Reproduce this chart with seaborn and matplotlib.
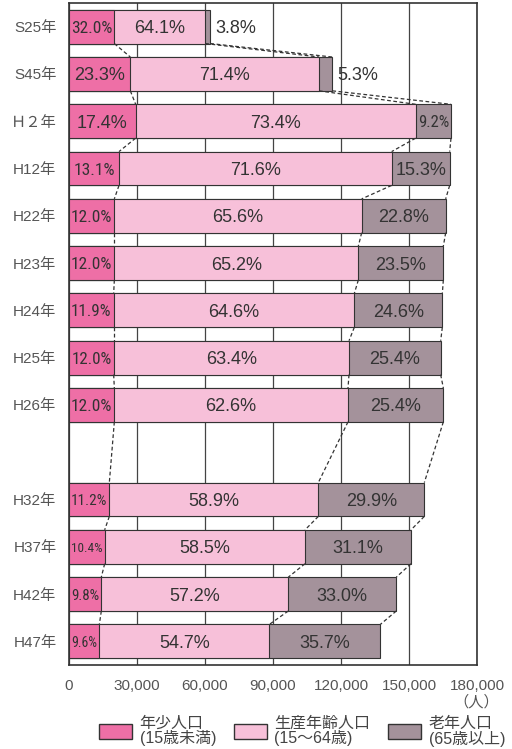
import numpy as np
import pandas as pd
import seaborn as sns
import matplotlib.pyplot as plt
from matplotlib import font_manager
from matplotlib.font_manager import FontProperties
from matplotlib.patches import Patch

# population by age group (persons)
years = ['S25年', 'S45年', 'Ｈ２年', 'H12年', 'H22年', 'H23年', 'H24年', 'H25年',
         'H26年', 'H32年', 'H37年', 'H42年', 'H47年']
young = [20000, 27060, 29410, 22060, 20000, 20000, 19710, 19710, 20000,
         17790, 15740, 14260, 13380]
working = [40150, 83240, 123530, 120290, 109120, 107650, 106170, 103820, 103090,
           92210, 88380, 82500, 75000]
old = [2200, 5880, 15590, 25590, 37060, 37500, 38830, 40440, 42060,
       46760, 46760, 47650, 48970]

young_pct = ['32.0%', '23.3%', '17.4%', '13.1%', '12.0%', '12.0%', '11.9%', '12.0%',
             '12.0%', '11.2%', '10.4%', '9.8%', '9.6%']
working_pct = ['64.1%', '71.4%', '73.4%', '71.6%', '65.6%', '65.2%', '64.6%', '63.4%',
               '62.6%', '58.9%', '58.5%', '57.2%', '54.7%']
old_pct = ['3.8%', '5.3%', '9.2%', '15.3%', '22.8%', '23.5%', '24.6%', '25.4%',
           '25.4%', '29.9%', '31.1%', '33.0%', '35.7%']

groups = ['年少人口\n(15歳未満)', '生産年齢人口\n(15～64歳)', '老年人口\n(65歳以上)']
colors = ['#ee6fa6', '#f7c0d9', '#a4929b']

sns.set_theme(style="white")
plt.rcParams['font.family'] = ['Liberation Sans', 'Noto Sans CJK JP', 'DejaVu Sans']

df = pd.DataFrame({'year': years, 'young': young, 'working': working, 'old': old})
df['cum1'] = df['young']
df['cum2'] = df['young'] + df['working']
df['total'] = df['cum2'] + df['old']

# blank slot between H26 and H32
order = years[:9] + [' '] + years[9:]
pos = [order.index(y) for y in years]

fig = plt.figure(figsize=(5.12, 7.49), dpi=100)
ax = fig.add_axes([69 / 512, 1 - 665 / 749, 408 / 512, 662 / 749])

bw = 0.715
ec = '#333333'
# stack by overdrawing cumulative totals
for col, c in zip(['total', 'cum2', 'cum1'], colors[::-1]):
    sns.barplot(data=df, x=col, y='year', order=order, orient='h', color=c,
                saturation=1, width=bw, edgecolor=ec, linewidth=0.8, ax=ax)

# dashed connectors between neighbouring bars
for i in range(len(years) - 1):
    for col in ['cum1', 'cum2', 'total']:
        ax.plot([df[col][i], df[col][i + 1]], [pos[i] + bw / 2, pos[i + 1] - bw / 2],
                ls=(0, (3, 2)), color=ec, lw=0.9, zorder=1)

ax.set_xlim(0, 180000)
ax.set_ylim(13.5, -0.5)
ticks = list(range(0, 180001, 30000))
ax.set_xticks(ticks)
ax.set_xticklabels([f'{t:,}' for t in ticks])
ax.set_xlabel('')
ax.set_ylabel('')
ax.tick_params(axis='x', length=0, pad=10, labelsize=11, colors='#555555')
ax.tick_params(axis='y', length=0, pad=9, labelsize=11, colors='#555555')
ax.xaxis.grid(True, color='#444444', lw=0.9)
ax.yaxis.grid(False)
ax.set_axisbelow(True)
for s in ax.spines.values():
    s.set_color('#333333')
    s.set_linewidth(1.2)


# look for a narrow face for the tight segments
def narrow_font():
    pref = ['Liberation Sans Narrow', 'Roboto Condensed', 'Open Sans Condensed',
            'Noto Sans Condensed', 'DejaVu Sans']
    best = None
    for f in font_manager.fontManager.ttflist:
        cond = ('Narrow' in f.name or 'Condensed' in f.name or 'Condensed' in f.fname
                or f.stretch in ('condensed', 'semi-condensed', 'extra-condensed'))
        if not cond or f.style != 'normal' or f.weight not in (400, 'normal', 'regular'):
            continue
        if 'Bold' in f.fname or 'Italic' in f.fname or 'Light' in f.fname:
            continue
        rank = next((k for k, p in enumerate(pref) if f.name.startswith(p)), 99)
        if best is None or rank < best[0]:
            best = (rank, f.fname)
    return best[1] if best else None


narrow = narrow_font()
fig.canvas.draw()
renderer = fig.canvas.get_renderer()
ppu = ax.transData.transform((1, 0))[0] - ax.transData.transform((0, 0))[0]
fs = 13


def put(x0, x1, y, s):
    seg = (x1 - x0) * ppu
    if seg < 22:
        ax.text(x1 + 5 / ppu, y, s, ha='left', va='center_baseline', fontsize=fs,
                color='#333333')
        return
    t = ax.text((x0 + x1) / 2, y, s, ha='center', va='center_baseline', fontsize=fs,
                color='#333333')
    w = t.get_window_extent(renderer).width
    if w > seg - 4:
        if narrow:
            t.set_fontproperties(FontProperties(fname=narrow, size=12.5))
            w = t.get_window_extent(renderer).width
        if w > seg - 4:
            t.set_fontsize(12.5 * (seg - 4) / w)


for i in range(len(years)):
    put(0, df['cum1'][i], pos[i], young_pct[i])
    put(df['cum1'][i], df['cum2'][i], pos[i], working_pct[i])
    put(df['cum2'][i], df['total'][i], pos[i], old_pct[i])

fig.text(476 / 512, 1 - 702 / 749, '（人）', ha='center', va='center', fontsize=11,
         color='#555555')

handles = [Patch(facecolor=c, edgecolor=ec, linewidth=1) for c in colors]
leg = fig.legend(handles, groups, loc='center', bbox_to_anchor=(302 / 512, 1 - 731 / 749),
                 ncol=3, frameon=False, fontsize=11.5, handlelength=2.1, handleheight=1.0,
                 handletextpad=0.45, columnspacing=1.1, borderpad=0)
for t in leg.get_texts():
    t.set_color('#444444')
    t.set_linespacing(1.0)

fig.savefig('out.png', dpi=100)
